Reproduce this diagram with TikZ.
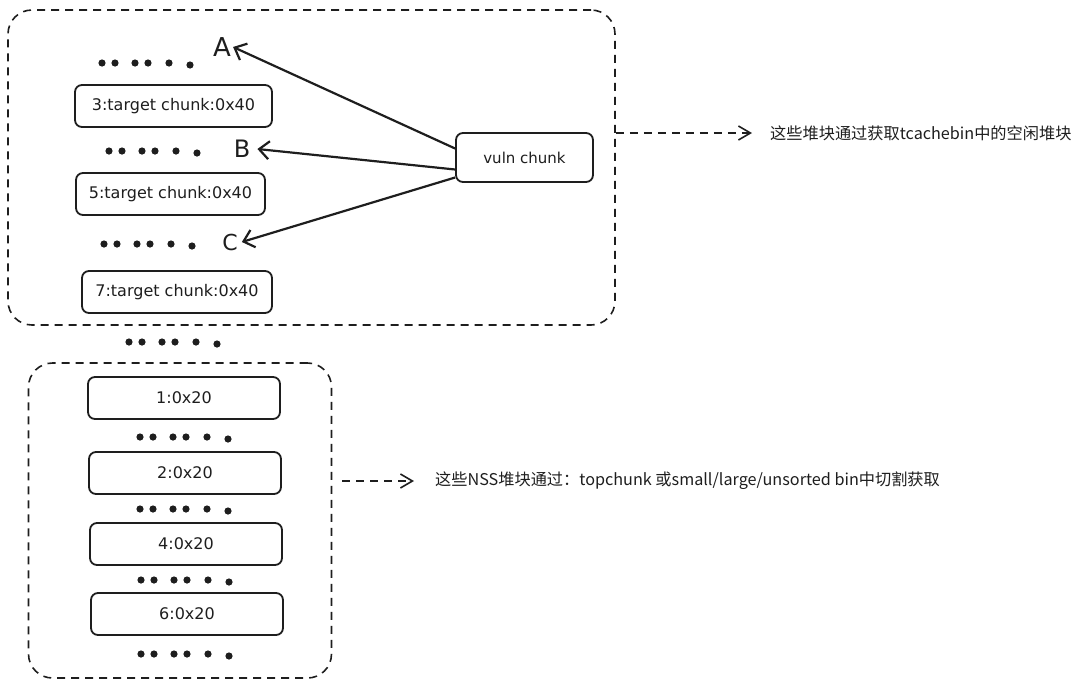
\documentclass[tikz,border=0pt]{standalone}
\usepackage{fontspec}
\setmainfont{DejaVu Sans}
\newfontfamily\cjk{Noto Sans CJK SC}
\usetikzlibrary{arrows.meta,calc}
\definecolor{ink}{HTML}{1E1E1E}
\newcommand\dotrow[2]{\foreach \dx/\dy in {0/0,13/0,33/0,46/0,67/0,88/2}{\fill[ink] (#1+\dx,#2-\dy) circle (3.6pt);}}
\begin{document}
\begin{tikzpicture}[x=1pt,y=1pt,
  chunk/.style={draw=ink, line width=1.8pt, rounded corners=7pt, fill=white,
    text=ink, font=\fontsize{16}{19}\selectfont, inner sep=0pt},
  group/.style={draw=ink, line width=1.6pt, dash pattern=on 8pt off 6pt,
    rounded corners=24pt, inner sep=0pt},
  letter/.style={text=ink, inner sep=1pt},
  note/.style={text=ink, font=\cjk\fontsize{16.2}{20}\selectfont, anchor=west, inner sep=0pt},
  ptr/.style={draw=ink, line width=2.2pt, -{Straight Barb[length=10pt,width=18pt]}},
  dptr/.style={draw=ink, line width=1.6pt, dash pattern=on 8pt off 6pt,
    -{Straight Barb[length=12pt,width=14pt]}}]
\useasboundingbox (0,0) rectangle (1080,-686);

% containers
\node[group, minimum width=607pt, minimum height=315pt] (top) at (311.5,-167.5) {};
\node[group, minimum width=303pt, minimum height=315pt] (bot) at (180,-520.5) {};

% top chunks
\node[chunk, minimum width=197pt, minimum height=42pt] (c3) at (173.5,-106) {3:target chunk:0x40};
\node[chunk, minimum width=189pt, minimum height=42pt] (c5) at (170.5,-194) {5:target chunk:0x40};
\node[chunk, minimum width=190pt, minimum height=42pt] (c7) at (177,-292) {7:target chunk:0x40};
\node[chunk, minimum width=137pt, minimum height=49pt, font=\fontsize{15}{18}\selectfont] (vuln) at (524.5,-157.5) {vuln chunk};

% bottom chunks
\node[chunk, minimum width=192pt, minimum height=42pt] (b1) at (184,-398) {1:0x20};
\node[chunk, minimum width=192pt, minimum height=42pt] (b2) at (185,-473) {2:0x20};
\node[chunk, minimum width=192pt, minimum height=42pt] (b4) at (186,-544) {4:0x20};
\node[chunk, minimum width=192pt, minimum height=42pt] (b6) at (187,-614) {6:0x20};

% dots
\dotrow{102}{-63}
\dotrow{109}{-151}
\dotrow{104}{-244}
\dotrow{129}{-342}
\dotrow{140}{-437}
\dotrow{140}{-509}
\dotrow{141}{-580}
\dotrow{141}{-654}

% letters
\node[letter, font=\fontsize{26}{30}\selectfont] (A) at (222,-47) {A};
\node[letter, font=\fontsize{24}{28}\selectfont] (B) at (242,-149) {B};
\node[letter, font=\fontsize{22}{26}\selectfont] (C) at (230,-242) {C};

% pointers
\draw[ptr] ([yshift=9pt]vuln.west) -- ([xshift=1pt]A.east);
\draw[ptr] ([yshift=-12pt]vuln.west) -- ([xshift=6pt]B.east);
\draw[ptr] ([yshift=-20pt]vuln.west) -- ([xshift=3pt]C.east);

% notes
\node[note] (n1) at (770,-133) {这些堆块通过获取tcachebin中的空闲堆块};
\node[note] (n2) at (435,-481) {这些NSS堆块通过：topchunk 或small/large/unsorted bin中切割获取};

\draw[dptr] (top.east |- n1.west) -- ([xshift=-18pt]n1.west);
\draw[dptr] ($(bot.east |- n2.west)+(10,0)$) -- ([xshift=-21pt]n2.west);
\end{tikzpicture}
\end{document}
